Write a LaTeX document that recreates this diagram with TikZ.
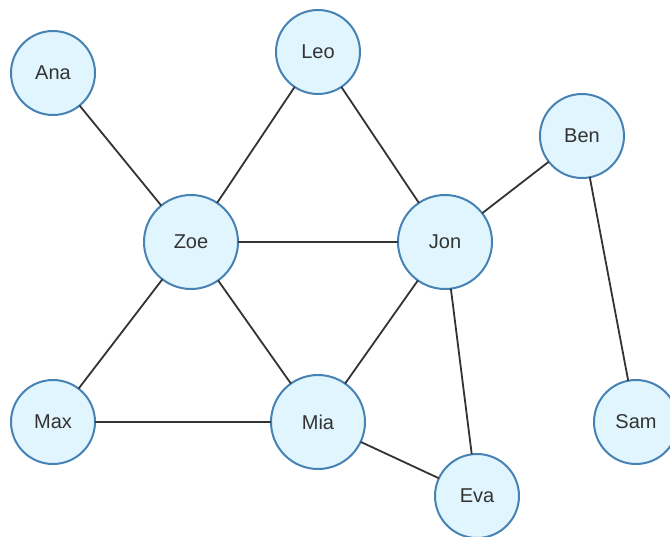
\documentclass[tikz,border=0pt]{standalone}
\usepackage{fontspec}
\setmainfont{Liberation Sans}
\definecolor{nodefill}{HTML}{E1F5FE}
\definecolor{nodestroke}{HTML}{4682B4}
\definecolor{ink}{HTML}{333333}
\begin{document}
\begin{tikzpicture}[x=1pt,y=-1pt,
  person/.style={circle,draw=nodestroke,fill=nodefill,line width=2pt,inner sep=0pt,outer sep=0pt,
    text=ink,font=\fontsize{20}{24}\selectfont},
  small/.style={person,minimum size=84pt},
  big/.style={person,minimum size=94pt},
  link/.style={draw=ink,line width=1.8pt}]
\useasboundingbox (0,0) rectangle (670,537);
\clip (0,0) rectangle (670,537);
\node[small] (ana) at (53,73) {Ana};
\node[small] (leo) at (318,52) {Leo};
\node[small] (ben) at (582,136) {Ben};
\node[big] (zoe) at (191,242) {Zoe};
\node[big] (jon) at (445,242) {Jon};
\node[small] (max) at (53,422) {Max};
\node[big] (mia) at (318,422) {Mia};
\node[small] (sam) at (636,422) {Sam};
\node[small] (eva) at (477,496) {Eva};
\path[link] (ana) -- (zoe);
\path[link] (leo) -- (zoe);
\path[link] (leo) -- (jon);
\path[link] (zoe) -- (jon);
\path[link] (jon) -- (ben);
\path[link] (ben) -- (sam);
\path[link] (zoe) -- (max);
\path[link] (zoe) -- (mia);
\path[link] (jon) -- (mia);
\path[link] (jon) -- (eva);
\path[link] (max) -- (mia);
\path[link] (mia) -- (eva);
\end{tikzpicture}
\end{document}
